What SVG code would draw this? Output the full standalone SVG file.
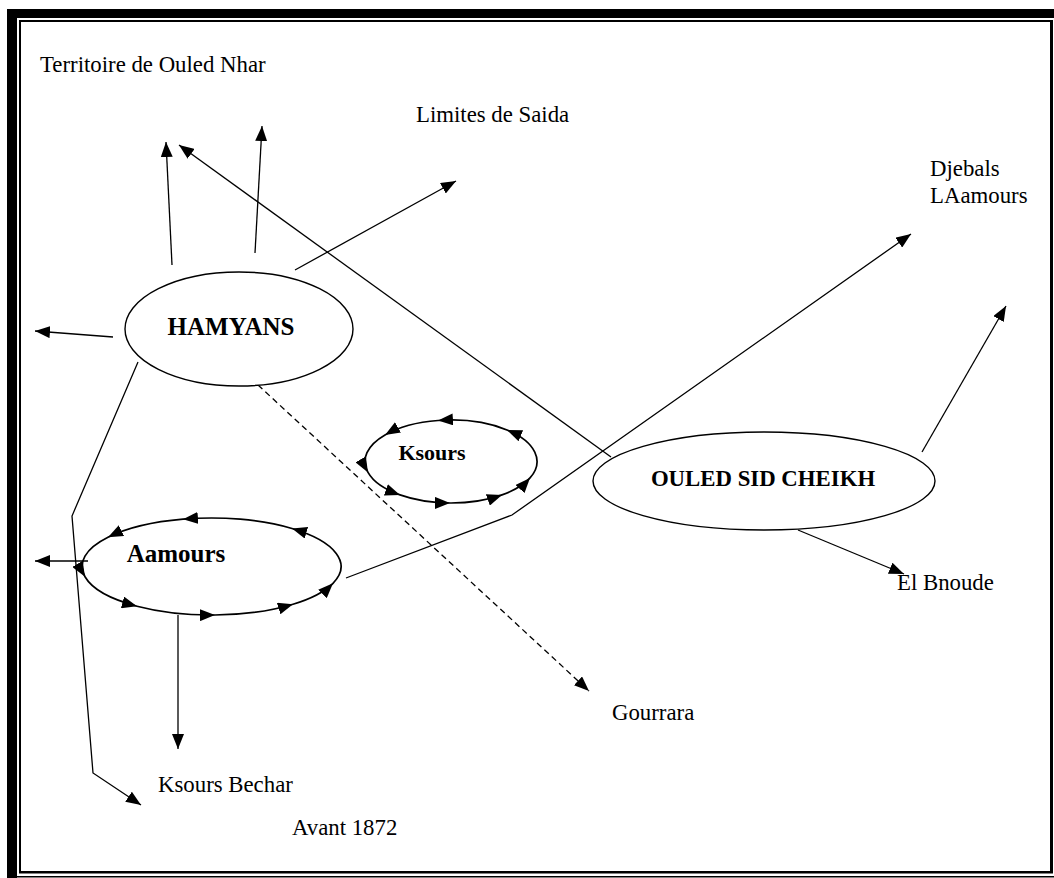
<svg xmlns="http://www.w3.org/2000/svg" width="1054" height="878" viewBox="0 0 1054 878">
  <style>
    .lbl { font-family: "Liberation Serif", "Times New Roman", serif; font-size: 22.8px; fill: #000; }
    .nd { font-family: "Liberation Serif", "Times New Roman", serif; font-weight: bold; fill: #000; }
    .shape { fill: #fff; stroke: #000; stroke-width: 1.4; }
    .cycle { fill: none; stroke: #000; stroke-width: 1.7; marker-mid: url(#head); marker-end: url(#head); }
    .link { fill: none; stroke: #000; stroke-width: 1.3; marker-end: url(#head); }
    .dash { stroke-dasharray: 6 4; }
  </style>
  <defs>
    <marker id="head" markerUnits="userSpaceOnUse" markerWidth="15" markerHeight="12" refX="15" refY="6" orient="auto">
      <path d="M0,0 L15,6 L0,12 Z" fill="#000"/>
    </marker>
  </defs>

  <rect width="1054" height="878" fill="#fff"/>

  <!-- page frame -->
  <g id="frame" fill="#000">
    <rect x="7" y="9" width="1047" height="9"/>
    <rect x="7" y="9" width="10" height="869"/>
    <rect x="19" y="20" width="1033" height="2"/>
    <rect x="19" y="20" width="2" height="853"/>
    <rect x="1050" y="20" width="3" height="853"/>
    <rect x="19" y="871" width="1034" height="2.5"/>
    <rect x="17" y="876" width="1037" height="1.5"/>
  </g>

  <!-- connectors -->
  <g id="connectors">
    <path class="link" d="M172,265 L166,142"/>
    <path class="link" d="M255,253 L262,126"/>
    <path class="link" d="M611,457 L179,145"/>
    <path class="link" d="M295,270 L456,181"/>
    <path class="link" d="M113,337 L35,331"/>
    <path class="link" d="M138,362 L72,516 L93,773 L141,805"/>
    <path class="link" d="M88,561 L35,561"/>
    <path class="link" d="M178,615 L178,749"/>
    <path class="link" d="M346,578 L512,515 L911,234"/>
    <path class="link" d="M922,452 L1006,306"/>
    <path class="link" d="M798,530 L904,574"/>
    <path class="link dash" d="M258,385 L589,691"/>
  </g>

  <g id="hamyans">
    <ellipse class="shape" cx="239" cy="329" rx="114" ry="57"/>
    <text class="nd" x="231" y="335" font-size="25" text-anchor="middle">HAMYANS</text>
  </g>

  <g id="ouled-sid-cheikh">
    <ellipse class="shape" cx="764" cy="481" rx="171" ry="49"/>
    <text class="nd" x="763" y="486" font-size="22.8" text-anchor="middle">OULED SID CHEIKH</text>
  </g>

  <g id="ksours">
    <ellipse cx="451" cy="461.5" rx="86" ry="41.5" fill="#fff"/>
    <path class="cycle" d="M507,430 A86,41.5 0 0 0 438,420.5 A86,41.5 0 0 0 385,434.9 A86,41.5 0 0 0 368,472.4 A86,41.5 0 0 0 400,494.9 A86,41.5 0 0 0 450,503 A86,41.5 0 0 0 502,494.9 A86,41.5 0 0 0 530,477.9 A86,41.5 0 0 0 507,430"/>
    <text class="nd" x="432" y="460" font-size="22" text-anchor="middle">Ksours</text>
  </g>

  <g id="aamours">
    <path class="cycle" d="M292,528.5 A129.5,48.5 0 0 0 183,519.2 A129.5,48.5 0 0 0 108,537.3 A129.5,48.5 0 0 0 85,576.8 A129.5,48.5 0 0 0 137,606.2 A129.5,48.5 0 0 0 215,615 A129.5,48.5 0 0 0 293,604.2 A129.5,48.5 0 0 0 333,583.3 A129.5,48.5 0 0 0 292,528.5"/>
    <text class="nd" x="176" y="562" font-size="25" text-anchor="middle">Aamours</text>
  </g>

  <!-- place names -->
  <g id="labels">
    <text class="lbl" x="40" y="72">Territoire de Ouled Nhar</text>
    <text class="lbl" x="416" y="122">Limites de Saida</text>
    <text class="lbl" x="930" y="176">Djebals</text>
    <text class="lbl" x="930" y="203">LAamours</text>
    <text class="lbl" x="897" y="590">El Bnoude</text>
    <text class="lbl" x="612" y="720">Gourrara</text>
    <text class="lbl" x="158" y="792">Ksours Bechar</text>
    <text class="lbl" x="292" y="835">Avant 1872</text>
  </g>
</svg>
